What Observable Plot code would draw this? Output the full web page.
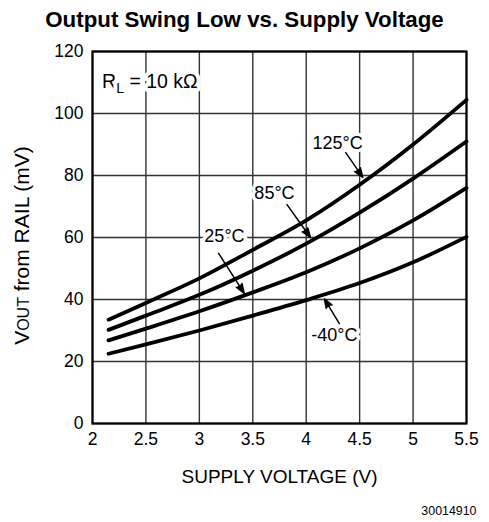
<!DOCTYPE html>
<html><head><meta charset="utf-8">
<script src="https://cdn.jsdelivr.net/npm/d3@7"></script>
<script src="https://cdn.jsdelivr.net/npm/@observablehq/plot@0.6"></script>
<style>
body{margin:0;background:#fff;font-family:"Liberation Sans",Arial,Helvetica,sans-serif;}
#title{height:40px;line-height:40px;text-align:center;font-weight:bold;font-size:22.3px;color:#000;white-space:nowrap;}
</style></head><body>
<div id="title">Output Swing Low vs. Supply Voltage</div>
<div id="chart"></div>
<script>
// Data
const voltage = [2.15, 2.5, 3, 3.5, 4, 4.5, 5, 5.5];
const t125 = [33.5, 38.9, 46.8, 56, 65.5, 77, 90, 104.4];
const t85 = [30.2, 34.8, 41.5, 49.3, 58, 68, 79, 91];
const t25 = [26.8, 30.6, 36.2, 42.3, 48.8, 56.5, 65.5, 76];
const tm40 = [22.5, 25.5, 30, 34.8, 39.8, 45.3, 52, 60.2];
const seriesNames = ["125°C", "85°C", "25°C", "-40°C"];
const seriesValues = [t125, t85, t25, tm40];

const xTicks = [2, 2.5, 3, 3.5, 4, 4.5, 5, 5.5];
const xTickLabels = ["2", "2.5", "3", "3.5", "4", "4.5", "5", "5.5"];
const yTicks = [0, 20, 40, 60, 80, 100, 120];

// Curve labels and their arrows (data coordinates)
const labelX = [4.293, 3.703, 3.235, 4.263];
const labelY = [90.4, 74.2, 60.5, 28.4];
const arrowX1 = [4.37, 3.82, 3.18, 4.31];
const arrowY1 = [87.4, 70.6, 54.9, 32.2];
const arrowX2 = [4.53, 4.04, 3.42, 4.17];
const arrowY2 = [79.4, 60.0, 42.0, 40.2];

const rlText = "RL = 10 kΩ";
const rlX = 2.09, rlY = 110.2;
const xLabel = "SUPPLY VOLTAGE (V)";
const yLabel = "VOUT from RAIL (mV)";
const figId = "30014910";

const rows = seriesNames.flatMap((s, k) => voltage.map((v, i) => ({s, v, mv: seriesValues[k][i]})));
const labels = seriesNames.map((t, i) => ({t, x: labelX[i], y: labelY[i]}));
const arrows = seriesNames.map((t, i) => ({x1: arrowX1[i], y1: arrowY1[i], x2: arrowX2[i], y2: arrowY2[i]}));

const font = '"Liberation Sans", Arial, Helvetica, sans-serif';

const svg = Plot.plot({
  width: 489,
  height: 482,
  marginLeft: 92,
  marginRight: 23,
  marginTop: 11,
  marginBottom: 99,
  style: {fontFamily: font, fontSize: "17.5px", color: "#000", background: "#fff", overflow: "visible"},
  x: {domain: [2, 5.5]},
  y: {domain: [0, 120]},
  marks: [
    Plot.gridX(xTicks, {stroke: "#333", strokeOpacity: 1, strokeWidth: 1.4}),
    Plot.gridY(yTicks, {stroke: "#333", strokeOpacity: 1, strokeWidth: 1.4}),
    Plot.frame({stroke: "#000", strokeWidth: 2.2}),
    Plot.axisX(xTicks, {tickSize: 0, tickPadding: 9, tickFormat: (d, i) => xTickLabels[i], fontSize: 17.5, label: null}),
    Plot.axisY(yTicks, {tickSize: 0, tickPadding: 9, fontSize: 17.5, label: null}),
    Plot.line(rows, {x: "v", y: "mv", z: "s", stroke: "#000", strokeWidth: 3.8, curve: "monotone-x", strokeLinecap: "round"}),
    Plot.text(labels, {x: "x", y: "y", text: "t", fontSize: 18, fill: "#000", stroke: "#fff", strokeWidth: 7, textAnchor: "middle"}),
    Plot.arrow(arrows, {x1: "x1", y1: "y1", x2: "x2", y2: "y2", stroke: "#000", strokeWidth: 1.5, headLength: 10, headAngle: 40}),
    Plot.text([rlText], {x: rlX, y: rlY, text: d => d, fontSize: 19.5, fill: "#000", stroke: "#fff", strokeWidth: 8, textAnchor: "start"}),
    Plot.text([xLabel], {frameAnchor: "bottom", text: d => d, fontSize: 19, dy: 59, fill: "#000"}),
    Plot.text([yLabel], {frameAnchor: "left", text: d => d, fontSize: 21, rotate: -90, textAnchor: "middle", dx: -70.3, dy: 8, fill: "#000"}),
    Plot.text([figId], {frameAnchor: "bottom-right", text: d => d, fontSize: 12.4, textAnchor: "end", dx: 10, dy: 91, fill: "#000"})
  ]
});

const s = d3.select(svg);
// filled arrowheads
s.selectAll('g[aria-label="arrow"] path').attr("fill", "#000").attr("stroke-linejoin", "miter");

// subscript L in R_L
s.selectAll("text").filter(function() { return this.textContent === rlText; }).each(function() {
  const t = d3.select(this);
  t.text(null);
  t.append("tspan").text("R");
  t.append("tspan").attr("font-size", "14px").attr("dy", "5").text("L");
  t.append("tspan").attr("dy", "-5").text(" = 10 kΩ");
});

// small "OUT" in V_OUT
s.selectAll("text").filter(function() { return this.textContent === yLabel; }).each(function() {
  const t = d3.select(this);
  t.text(null);
  t.append("tspan").text("V");
  t.append("tspan").attr("font-size", "16px").text("OUT");
  t.append("tspan").text(" from RAIL (mV)");
});

document.getElementById("chart").appendChild(svg);
</script>
</body></html>
